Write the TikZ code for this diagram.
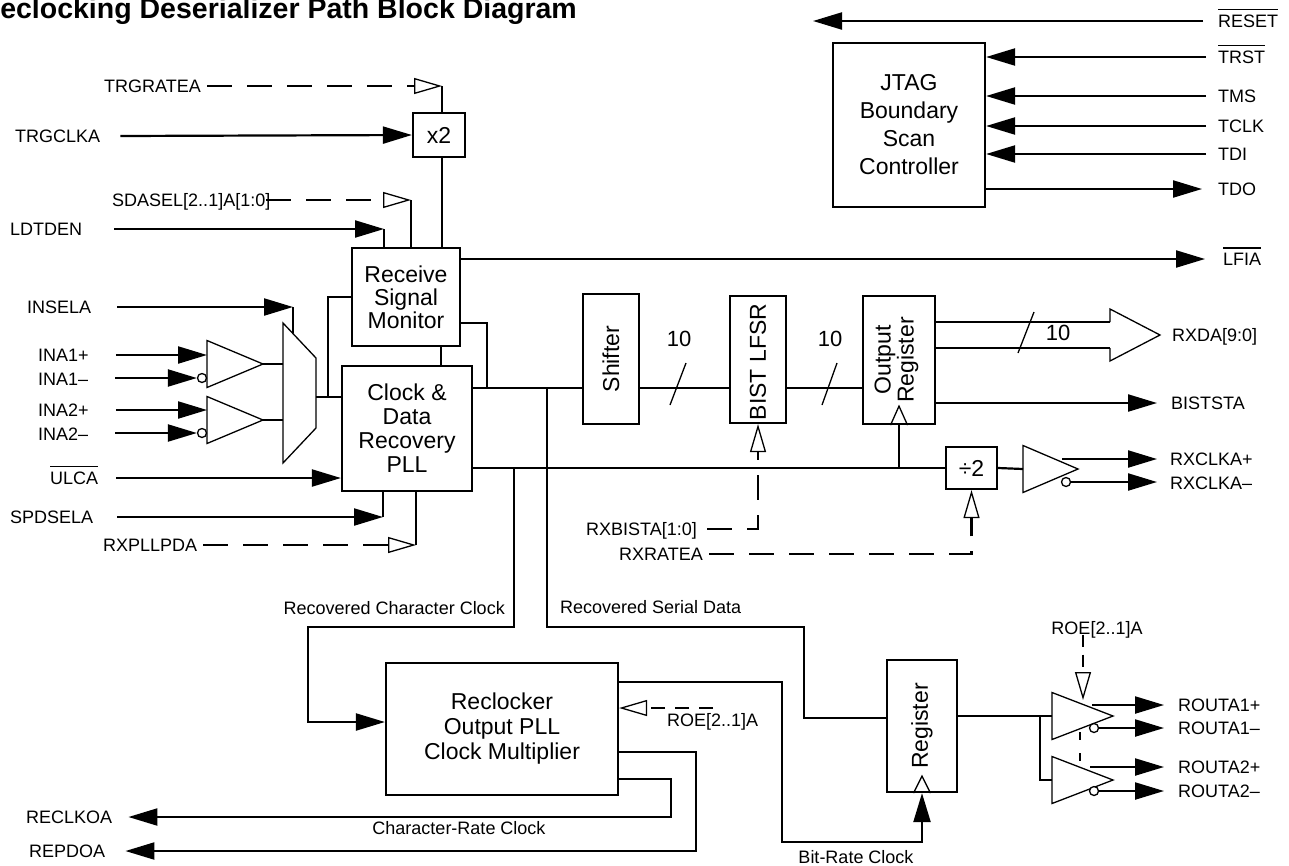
\documentclass[tikz,border=0pt]{standalone}
\usepackage{fontspec}
\setmainfont{Liberation Sans}
\usetikzlibrary{arrows.meta}
\newsavebox\ovlbox
\newcommand{\ovl}[1]{\sbox\ovlbox{#1}\rlap{\rule[\dimexpr\ht\ovlbox+4.5pt\relax]{\wd\ovlbox}{1.2pt}}\usebox\ovlbox}
\newcommand{\lblfont}{\fontsize{18}{20}\selectfont}
\newcommand{\boxfont}{\fontsize{23}{24}\selectfont}
\tikzset{
  wire/.style={line width=2.2pt},
  dsh/.style={line width=2.2pt,dash pattern=on 25pt off 15pt},
  gate/.style={line width=1.3pt},
  arr/.style={-{Triangle[length=29pt,width=17pt]}},
  oarr/.style={-{Triangle[open,length=28pt,width=16pt,line width=1.3pt]}},
  blk/.style={draw,line width=2.2pt,inner sep=0pt,align=center,font=\boxfont},
  lbl/.style={inner xsep=0pt,inner ysep=0pt,text height=13pt,text depth=0pt,font=\lblfont},
  bub/.style={circle,draw,gate,fill=white,inner sep=0pt,minimum size=9pt},
  pics/buf/.style={code={
    \draw[gate] (0,-23.5) -- (#1,0) -- (0,23.5) -- cycle;
    \coordinate (-out) at (#1,0);
  }},
}
\begin{document}
\begin{tikzpicture}[x=1pt,y=-1pt]
  \useasboundingbox (0,0) rectangle (1289,865);
  \clip (0,0) rectangle (1289,865);

  \node[anchor=base west,inner sep=0pt,font=\fontsize{28.5}{30}\selectfont\bfseries] (title) at (-20.5,18) {Reclocking Deserializer Path Block Diagram};

  % blocks
  \node[blk,minimum width=52,minimum height=44] (x2) at (439,135) {x2};
  \node[blk,minimum width=108,minimum height=98,font=\fontsize{23}{23}\selectfont] (rsm) at (406,297) {Receive\\Signal\\Monitor};
  \node[blk,minimum width=130,minimum height=125] (cdr) at (407,428.5) {Clock \&\\Data\\Recovery\\PLL};
  \node[blk,minimum width=152,minimum height=164,font=\fontsize{23}{28}\selectfont] (jtag) at (909,125) {JTAG\\Boundary\\Scan\\Controller};
  \node[blk,minimum width=56,minimum height=130] (shf) at (611,359) {};
  \node[rotate=90,font=\boxfont] (shft) at (shf) {Shifter};
  \node[blk,minimum width=56,minimum height=127] (bist) at (758,359.5) {};
  \node[rotate=90,font=\boxfont] (bistt) at (758,362) {BIST LFSR};
  \node[blk,minimum width=72,minimum height=128] (oreg) at (899,360) {};
  \node[rotate=90,align=center,font=\fontsize{23}{23}\selectfont] (oregt) at (896.5,360) {Output\\Register};
  \node[blk,minimum width=51,minimum height=42] (div) at (971.5,468) {÷2};
  \node[blk,minimum width=232,minimum height=132,font=\fontsize{23}{25}\selectfont] (rec) at (502,729) {Reclocker\\Output PLL\\Clock Multiplier};
  \node[blk,minimum width=70,minimum height=132] (reg) at (922,726) {};
  \node[rotate=90,font=\boxfont] (regt) at (reg) {Register};

  % mux and buffers
  \draw[gate] (283,323) -- (316,358) -- (316,428) -- (283,463) -- cycle;
  \coordinate (muxo) at (316,397);
  \coordinate (muxj) at (328,397);
  \pic (bufa) at (207,364) {buf=56};
  \pic (bufb) at (207,420) {buf=56};
  \pic (bufc) at (1023,469) {buf=55};
  \pic (bufd) at (1052,716) {buf=61};
  \pic (bufe) at (1052,780) {buf=61};
  \node[bub] (bna1) at (202,378) {};
  \node[bub] (bna2) at (202,433) {};
  \node[bub] (bclk) at (1066,482) {};
  \node[bub] (bro1) at (1094,728) {};
  \node[bub] (bro2) at (1094,791) {};

  % left labels
  \node[lbl,anchor=west] (trgratea) at (104,86) {TRGRATEA};
  \node[lbl,anchor=west] (trgclka) at (15,136) {TRGCLKA};
  \node[lbl,anchor=west] (sdasel) at (112,200) {SDASEL[2..1]A[1:0]};
  \node[lbl,anchor=west] (ldtden) at (10,229) {LDTDEN};
  \node[lbl,anchor=west] (insela) at (27,307) {INSELA};
  \node[lbl,anchor=west] (ina1p) at (38,355) {INA1+};
  \node[lbl,anchor=west] (ina1m) at (38,379) {INA1–};
  \node[lbl,anchor=west] (ina2p) at (38,410) {INA2+};
  \node[lbl,anchor=west] (ina2m) at (38,434) {INA2–};
  \node[lbl,anchor=west] (ulca) at (50,478) {\ovl{ULCA}};
  \node[lbl,anchor=west] (spdsela) at (10,517) {SPDSELA};
  \node[lbl,anchor=west] (rxpllpda) at (103,545) {RXPLLPDA};
  \node[lbl,anchor=west] (rxbista) at (586,529) {RXBISTA[1:0]};
  \node[lbl,anchor=west] (rxratea) at (619,554) {RXRATEA};
  \node[lbl,anchor=east] (rcc) at (505,608) {Recovered Character Clock};
  \node[lbl,anchor=west] (rsd) at (560,607) {Recovered Serial Data};
  \node[lbl,anchor=west] (reclkoa) at (26,817) {RECLKOA};
  \node[lbl,anchor=west] (repdoa) at (29,851) {REPDOA};
  \node[lbl] (crc) at (459,828) {Character-Rate Clock};
  \node[lbl] (brc) at (856,857) {Bit-Rate Clock};
  \node[lbl,anchor=west] (roea) at (667,720) {ROE[2..1]A};
  \node[lbl] (roeb) at (1097,628) {ROE[2..1]A};

  % right labels
  \node[lbl,anchor=west] (reset) at (1218,21) {\ovl{RESET}};
  \node[lbl,anchor=west] (trst) at (1218,57) {\ovl{TRST}};
  \node[lbl,anchor=west] (tms) at (1218,96) {TMS};
  \node[lbl,anchor=west] (tclk) at (1218,126) {TCLK};
  \node[lbl,anchor=west] (tdi) at (1218,154) {TDI};
  \node[lbl,anchor=west] (tdo) at (1218,189) {TDO};
  \node[lbl,anchor=west] (lfia) at (1223,259) {\ovl{LFIA}};
  \node[lbl,anchor=west] (rxda) at (1172,335) {RXDA[9:0]};
  \node[lbl,anchor=west] (biststa) at (1171,403) {BISTSTA};
  \node[lbl,anchor=west] (rxclkp) at (1170,459) {RXCLKA+};
  \node[lbl,anchor=west] (rxclkm) at (1170,483) {RXCLKA–};
  \node[lbl,anchor=west] (rout1p) at (1178,705) {ROUTA1+};
  \node[lbl,anchor=west] (rout1m) at (1178,728) {ROUTA1–};
  \node[lbl,anchor=west] (rout2p) at (1178,767) {ROUTA2+};
  \node[lbl,anchor=west] (rout2m) at (1178,791) {ROUTA2–};
  \node[font=\fontsize{22}{24}\selectfont] (w1) at (679,339) {10};
  \node[font=\fontsize{22}{24}\selectfont] (w2) at (830,339) {10};
  \node[font=\fontsize{22}{24}\selectfont] (w3) at (1058,333) {10};

  \coordinate (trgv) at (442,86);
  \coordinate (sdav) at (411,200);
  \coordinate (ldtv) at (384,229);
  \coordinate (insv) at (293,307);
  \coordinate (spdv) at (383,517);
  \coordinate (pdav) at (416,545);
  \coordinate (rsmc) at (441,346);
  \coordinate (sdj) at (547,388);
  \coordinate (ccj) at (514,468);
  \coordinate (rstend) at (813,21);
  \coordinate (roec) at (713,708);

  % inputs to receive side
  \draw[dsh,oarr] ([xshift=6]trgratea.east) -- (trgv);
  \draw[wire] (trgv) -- (trgv |- x2.north);
  \draw[wire,arr] ([xshift=20]trgclka.east) -- (x2.west);
  \draw[wire] (x2.south -| trgv) -- (trgv |- rsm.north);
  \draw[dsh,oarr] ([xshift=-4]sdasel.east) -- (sdav);
  \draw[wire] (sdav) -- (sdav |- rsm.north);
  \draw[wire,arr] ([xshift=32]ldtden.east) -- (ldtv);
  \draw[wire] (ldtv) -- (ldtv |- rsm.north);
  \draw[wire,arr] ([xshift=26]insela.east) -- (insv);
  \draw[wire] (insv) -- ++(0,26);
  \draw[wire,arr] ([xshift=27]ina1p.east) -- (207,355);
  \draw[wire,arr] ([xshift=27]ina1m.east |- bna1) -- (bna1.west);
  \draw[wire,arr] ([xshift=27]ina2p.east) -- (207,410);
  \draw[wire,arr] ([xshift=27]ina2m.east |- bna2) -- (bna2.west);
  \draw[wire] (bufa-out) -- (283,364);
  \draw[wire] (bufb-out) -- (283,420);
  \draw[wire] (muxo) -- (muxo -| cdr.west);
  \draw[wire] (muxj) |- (rsm.west);
  \draw[wire,arr] ([xshift=18]ulca.east) -- (ulca -| cdr.west);
  \draw[wire,arr] ([xshift=24]spdsela.east) -- (spdv);
  \draw[wire] (spdv) -- (spdv |- cdr.south);
  \draw[dsh,oarr] ([xshift=6]rxpllpda.east) -- (pdav);
  \draw[wire] (pdav) -- (pdav |- cdr.south);
  \draw[wire] (rsm.south -| rsmc) -- (rsmc |- cdr.north);

  % data and clock path
  \draw[wire,arr] (rsm.east |- lfia) -- ([xshift=-18]lfia.west);
  \draw[wire] (rsm.east |- 0,323) -| (487,388);
  \draw[wire] (cdr.east |- sdj) -- (sdj -| shf.west);
  \draw[wire] (shf.east |- sdj) -- (sdj -| bist.west);
  \draw[wire] (bist.east |- sdj) -- (sdj -| oreg.west);
  \draw[gate] (670,405) -- (686,363);
  \draw[gate] (822,405) -- (837,363);
  \draw[wire] (cdr.east |- div.west) -- (div.west);
  \draw[wire] (oreg.south |- div.west) -- (oreg.south);
  \draw[gate] ([xshift=-8.5]oreg.south) -- ([yshift=19]oreg.south) -- ([xshift=8.5]oreg.south);
  \draw[wire] (oreg.east |- 0,322) -- (1110,322);
  \draw[wire] (oreg.east |- 0,348) -- (1110,348);
  \draw[gate] (1110,322) -- (1110,309) -- (1160,335) -- (1110,361) -- (1110,348);
  \draw[gate] (1018,353) -- (1034,312);
  \draw[wire,arr] (oreg.east |- biststa) -- ([xshift=-14]biststa.west);
  \draw[dsh,oarr] ([xshift=10]rxbista.east) -| (bist.south);
  \draw[dsh,oarr] ([xshift=6]rxratea.east) -| (div.south);
  \draw[wire] (div.east) -- (bufc-out -| 1023,0);
  \draw[wire,arr] (1062,459) -- ([xshift=-13]rxclkp.west);
  \draw[wire,arr] (bclk.east) -- ([xshift=-13]rxclkm.west |- bclk);

  % reclocker path
  \draw[wire,arr] (ccj) |- (308,627) |- (rec.west |- 0,722);
  \draw[wire] (sdj) |- (804,627) |- (reg.west |- 0,718);
  \draw[wire,arr] (rec.east |- 0,682) -| (782,842) -| (reg.south);
  \draw[gate] ([xshift=-8.5]reg.south) -- ([yshift=17]reg.south) -- ([xshift=8.5]reg.south);
  \draw[dsh,oarr,dash pattern=on 14pt off 10pt] (roec) -- (rec.east |- roec);
  \draw[wire,arr] (rec.east |- 0,779) -| (671,817) -- ([xshift=16]reclkoa.east);
  \draw[wire,arr] (rec.east |- 0,752) -| (696,851) -- ([xshift=20]repdoa.east);
  \draw[wire] (reg.east |- 0,716) -- (1052,716);
  \draw[wire] (1040,716) |- (1052,780);
  \draw[wire,arr] (1092,705) -- ([xshift=-14]rout1p.west);
  \draw[wire,arr] (bro1.east) -- ([xshift=-14]rout1m.west);
  \draw[wire,arr] (1090,767) -- ([xshift=-14]rout2p.west);
  \draw[wire,arr] (bro2.east) -- ([xshift=-14]rout2m.west);
  \draw[dsh,oarr,dash pattern=on 12pt off 8pt] (roeb.south -| 1083,0) -- (1083,700);
  \draw[gate,dash pattern=on 8pt off 13pt] (1080,732) -- (1080,763);

  % jtag
  \draw[wire,arr] ([xshift=-15]reset.west) -- (rstend);
  \foreach \s in {trst,tms,tclk,tdi}
    \draw[wire,arr] ([xshift=-12]\s.west) -- (\s -| jtag.east);
  \draw[wire,arr] (tdo -| jtag.east) -- ([xshift=-16]tdo.west);
\end{tikzpicture}
\end{document}
